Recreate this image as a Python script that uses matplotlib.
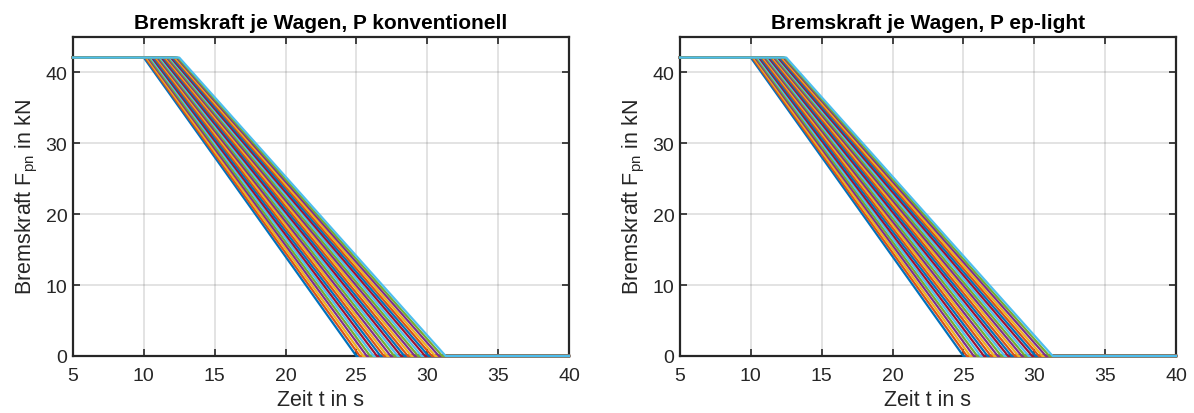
import numpy as np
import matplotlib
matplotlib.use('Agg')
import matplotlib.pyplot as plt

plt.rcParams['font.family'] = ['Liberation Sans', 'DejaVu Sans']
plt.rcParams['mathtext.default'] = 'regular'

# Bremskraft-Plateau in kN und Zeitachse
F_max = 42.1
t_begin = 5.0
t_end = 40.0

# Beginn des Kraftabfalls je Wagen (s), P konventionell
t_start_konv = [10.0, 10.1, 10.19, 10.29, 10.38, 10.48, 10.58, 10.67, 10.77,
                10.87, 10.96, 11.06, 11.15, 11.25, 11.35, 11.44, 11.54, 11.63,
                11.73, 11.83, 11.92, 12.02, 12.12, 12.21, 12.31, 12.4, 12.5]
# Zeitpunkt F = 0 je Wagen (s), P konventionell
t_null_konv = [25.0, 25.24, 25.48, 25.73, 25.97, 26.21, 26.45, 26.7, 26.94,
               27.18, 27.42, 27.67, 27.91, 28.15, 28.39, 28.63, 28.88, 29.12,
               29.36, 29.6, 29.85, 30.09, 30.33, 30.57, 30.82, 31.06, 31.3]

# P ep-light
t_start_ep = [10.0, 10.1, 10.19, 10.29, 10.38, 10.48, 10.58, 10.67, 10.77,
              10.87, 10.96, 11.06, 11.15, 11.25, 11.35, 11.44, 11.54, 11.63,
              11.73, 11.83, 11.92, 12.02, 12.12, 12.21, 12.31, 12.4, 12.5]
t_null_ep = [25.0, 25.24, 25.48, 25.73, 25.97, 26.21, 26.45, 26.7, 26.94,
             27.18, 27.42, 27.67, 27.91, 28.15, 28.39, 28.63, 28.88, 29.12,
             29.36, 29.6, 29.85, 30.09, 30.33, 30.57, 30.82, 31.06, 31.3]

titles = ['Bremskraft je Wagen, P konventionell', 'Bremskraft je Wagen, P ep-light']

matlab_colors = ['#0072BD', '#D95319', '#EDB120', '#7E2F8E',
                 '#77AC30', '#4DBEEE', '#A2142F']

fig = plt.figure(figsize=(11.94, 4.14), dpi=100)
ax1 = fig.add_axes([0.0611, 0.1377, 0.4154, 0.7705])
ax2 = fig.add_axes([0.5695, 0.1377, 0.4154, 0.7705])

for ax, ts, tn, title in [(ax1, t_start_konv, t_null_konv, titles[0]),
                          (ax2, t_start_ep, t_null_ep, titles[1])]:
    for i in range(len(ts)):
        # Linien ueber der Achse zeichnen, wie in MATLAB
        ax.plot([t_begin, ts[i], tn[i], t_end], [F_max, F_max, 0, 0],
                color=matlab_colors[i % 7], linewidth=1.6,
                zorder=3, clip_on=False)
    ax.set_xlim(5, 40)
    ax.set_ylim(0, 45)
    ax.set_xticks(np.arange(5, 41, 5))
    ax.set_yticks([0, 10, 20, 30, 40])
    ax.grid(True, color='#262626', alpha=0.15, linewidth=1.2)
    ax.set_axisbelow(True)
    ax.tick_params(direction='in', top=True, right=True, labelsize=14,
                   length=5, width=1.2, colors='#262626')
    ax.tick_params(axis='x', pad=8)
    ax.tick_params(axis='y', pad=4)
    for sp in ax.spines.values():
        sp.set_linewidth(1.6)
        sp.set_color('#262626')
    ax.set_title(title, fontsize=15, fontweight='bold', pad=6.5)
    ax.set_xlabel('Zeit t in s', fontsize=15.5, color='#262626', labelpad=3.5)
    ax.set_ylabel('Bremskraft F$_{pn}$ in kN', fontsize=15.5, color='#262626',
                  labelpad=4)

fig.savefig('out.png', dpi=100)
